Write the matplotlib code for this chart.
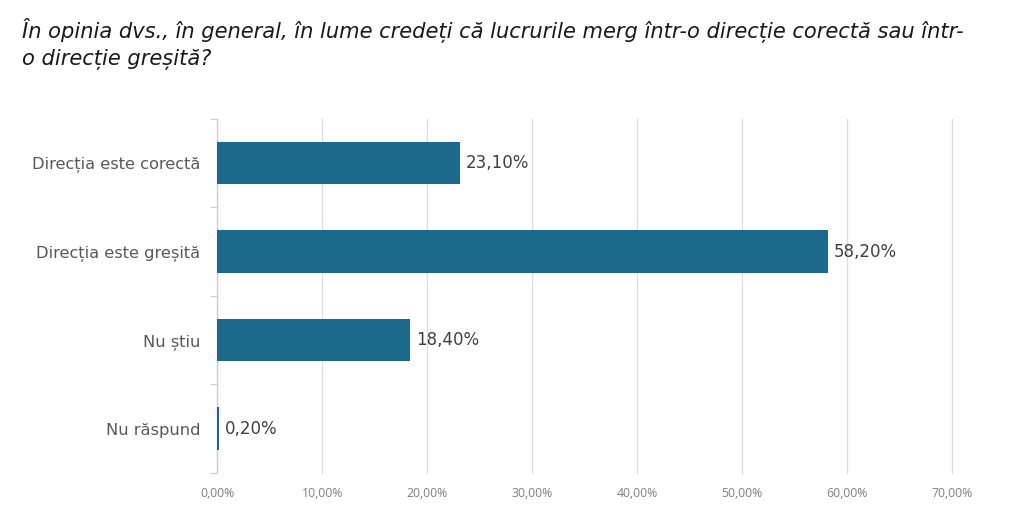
import matplotlib
matplotlib.use("Agg")
import matplotlib.pyplot as plt
from matplotlib.ticker import FuncFormatter

categories = ["Direcția este corectă", "Direcția este greșită", "Nu știu", "Nu răspund"]
values = [23.10, 58.20, 18.40, 0.20]
xticks = [0, 10, 20, 30, 40, 50, 60, 70]
title = "În opinia dvs., în general, în lume credeți că lucrurile merg într-o direcție corectă sau într-\no direcție greșită?"

plt.rcParams['font.family'] = ['DejaVu Sans']

fig = plt.figure(figsize=(10.24, 5.22), dpi=100)
ax = fig.add_axes([0.212, 0.094, 0.718, 0.678])

bar_color = "#1b6a8c"
y = list(range(len(categories)))
ax.barh(y, values, height=0.48, color=bar_color, zorder=3)
ax.set_ylim(len(categories) - 0.5, -0.5)
ax.set_xlim(0, 70)

def fmt(v):
    return f"{v:.2f}".replace(".", ",") + "%"

for yi, v in zip(y, values):
    ax.text(v + 0.55, yi, fmt(v), va="center", ha="left", fontsize=12, color="#404040")

ax.set_xticks(xticks)
ax.xaxis.set_major_formatter(FuncFormatter(lambda v, p: fmt(v)))
ax.tick_params(axis="x", length=0, pad=10)
for lab in ax.get_xticklabels():
    lab.set_fontfamily("Open Sans")
    lab.set_fontsize(8.8)
    lab.set_color("#808080")
ax.grid(axis="x", color="#dcdcdc", linewidth=0.9, zorder=0)
for gl in ax.get_xgridlines():
    gl.set_clip_on(False)

ax.set_yticks(y)
ax.set_yticklabels(categories, fontsize=11.7, color="#595959")
ax.set_yticks([i - 0.5 for i in range(len(categories) + 1)], minor=True)
ax.tick_params(axis="y", which="major", length=0, pad=12)
ax.tick_params(axis="y", which="minor", length=5, color="#d0d0d0", width=0.9)

for s in ["top", "right", "bottom"]:
    ax.spines[s].set_visible(False)
ax.spines["left"].set_color("#d0d0d0")
ax.spines["left"].set_linewidth(0.9)

fig.text(0.021, 0.965, title, ha="left", va="top", fontsize=15.1, style="italic",
         color="#1a1a1a", linespacing=1.35)

fig.savefig("out.png", dpi=100, facecolor="white")
